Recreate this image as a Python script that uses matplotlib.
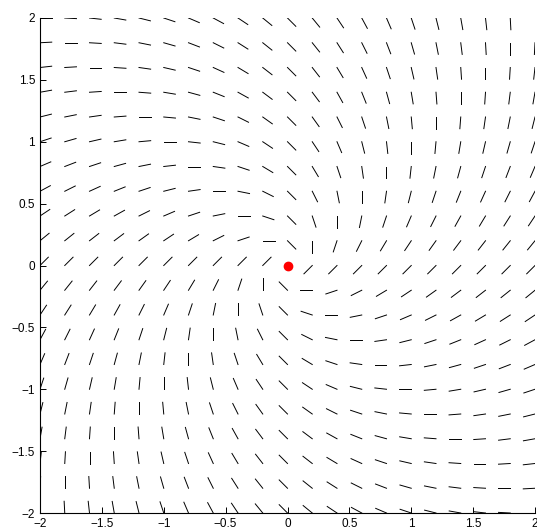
import numpy as np
import matplotlib
matplotlib.use("Agg")
import matplotlib.pyplot as plt

plt.rcParams["font.family"] = ["Liberation Sans", "DejaVu Sans"]

# grid of sample points for the direction field
xs = np.arange(-2, 2.0001, 0.2)
ys = np.arange(-2, 2.0001, 0.2)
seg_len = 0.095          # length of each slope mark (data units)
eq_point = [0.0, 0.0]    # equilibrium marked in red
ticks = [-2, -1.5, -1, -0.5, 0, 0.5, 1, 1.5, 2]
tick_labels = ["\u22122", "\u22121.5", "\u22121", "\u22120.5", "0", "0.5", "1", "1.5", "2"]

X, Y = np.meshgrid(xs, ys)
# system: x' = y - x, y' = -(x + y)
U = Y - X
V = -(X + Y)
N = np.hypot(U, V)
with np.errstate(invalid="ignore", divide="ignore"):
    U = U / N * seg_len
    V = V / N * seg_len
ok = N > 1e-9
x0, y0 = X[ok], Y[ok]
x1, y1 = x0 + U[ok], y0 + V[ok]

fig = plt.figure(figsize=(5.37, 5.31), dpi=100)
ax = fig.add_axes([40 / 537, 18 / 531, 495 / 537, 495 / 531])

ax.plot(np.vstack([x0, x1]), np.vstack([y0, y1]), color="k", lw=0.7)
ax.plot(eq_point[0], eq_point[1], "o", color="red", ms=6, mec="red")

ax.set_xlim(-2, 2)
ax.set_ylim(-2, 2)
ax.set_xticks(ticks)
ax.set_xticklabels(tick_labels)
ax.set_yticks(ticks)
ax.set_yticklabels(tick_labels)
ax.tick_params(direction="in", length=4, width=0.7, labelsize=8.5, pad=3.5)
for s in ("top", "right"):
    ax.spines[s].set_visible(False)
for s in ("left", "bottom"):
    ax.spines[s].set_linewidth(0.8)

fig.savefig("out.png", dpi=100, facecolor="white")
